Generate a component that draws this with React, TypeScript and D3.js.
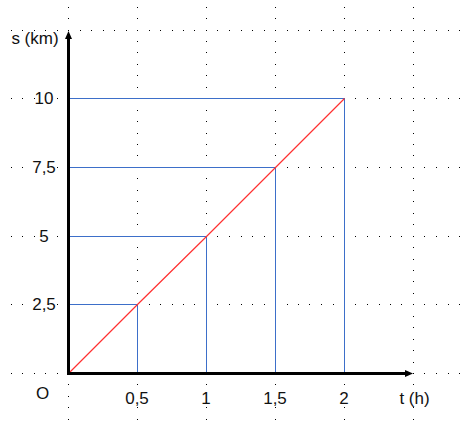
import React from "react";
import * as d3 from "d3";

const times = [0.5, 1, 1.5, 2];
const distances = [2.5, 5, 7.5, 10];
const xTickLabels = ["0,5", "1", "1,5", "2"];
const yTickLabels = ["2,5", "5", "7,5", "10"];
const xGridValues = [0, 0.5, 1, 1.5, 2, 2.5];
const yGridValues = [0, 2.5, 5, 7.5, 10, 12.5];
const xAxisTitle = "t (h)";
const yAxisTitle = "s (km)";
const originLabel = "O";

const W = 466;
const H = 427;

export default function App() {
  const x = d3.scaleLinear().domain([0, 2.5]).range([68, 413]);
  const y = d3.scaleLinear().domain([0, 12.5]).range([373, 29.5]);
  const px = (v: number) => Math.round(x(v)) + 0.5;
  const py = (v: number) => Math.round(y(v)) + 0.5;

  const dots: { cx: number; cy: number }[] = [];
  const ySub = 2.5 / 6;
  const yMin = y.invert(H), yMax = y.invert(0);
  xGridValues.forEach((gx) => {
    for (let k = Math.floor(yMin / ySub); k <= Math.ceil(yMax / ySub); k++) {
      const yy = Math.round(y(k * ySub));
      if (yy >= 0 && yy < H) dots.push({ cx: Math.round(x(gx)), cy: yy });
    }
  });
  const xSub = 0.5 / 6;
  const xMin = x.invert(0), xMax = x.invert(W);
  yGridValues.forEach((gy) => {
    for (let k = Math.floor(xMin / xSub); k <= Math.ceil(xMax / xSub); k++) {
      const xx = Math.round(x(k * xSub));
      if (xx >= 0 && xx < W) dots.push({ cx: xx, cy: Math.round(y(gy)) });
    }
  });

  const line = d3
    .line<[number, number]>()
    .x((d) => px(d[0]))
    .y((d) => py(d[1]));
  const redPts: [number, number][] = [[0, 0], ...times.map((t, i) => [t, distances[i]] as [number, number])];

  const font = "'Liberation Sans', Arial, sans-serif";
  const blue = "#3d6fc9";
  const x0 = px(0), y0 = py(0);
  const xTip = 413, yTip = 31;

  const labels: { t: string; x: number; y: number }[] = [
    ...xTickLabels.map((l, i) => ({ t: l, x: x(times[i]), y: 398 })),
    ...yTickLabels.map((l, i) => ({ t: l, x: 44, y: y(distances[i]) })),
    { t: xAxisTitle, x: 414.5, y: 398 },
    { t: yAxisTitle, x: 35, y: 38 },
    { t: originLabel, x: 42.5, y: 393.5 },
  ];

  return (
    <svg
      width={W}
      height={H}
      style={{ position: "absolute", left: 0, top: 0, background: "#fff" }}
      shapeRendering="crispEdges"
    >
      <rect x={0} y={0} width={W} height={H} fill="#fff" />
      <g>
        {dots.map((d, i) => (
          <rect key={i} x={d.cx} y={d.cy} width={1} height={1} fill="#000" />
        ))}
      </g>
      <g stroke={blue} strokeWidth={1} fill="none">
        {times.map((t, i) => (
          <g key={i}>
            <line x1={x0} x2={px(t)} y1={py(distances[i])} y2={py(distances[i])} />
            <line x1={px(t)} x2={px(t)} y1={y0} y2={py(distances[i])} />
          </g>
        ))}
      </g>
      <path d={line(redPts) || ""} stroke="#ff3030" strokeWidth={1.2} fill="none" shapeRendering="auto" />
      <g>
        <line x1={x0} x2={xTip - 6} y1={y0} y2={y0} stroke="#000" strokeWidth={3} />
        <path d={`M${xTip},${y0} L${xTip - 8},${y0 - 3.5} L${xTip - 8},${y0 + 3.5} Z`} fill="#000" shapeRendering="auto" />
        <line x1={x0} x2={x0} y1={y0 + 1.5} y2={yTip + 6} stroke="#000" strokeWidth={3} />
        <path d={`M${x0},${yTip} L${x0 - 3.5},${yTip + 8} L${x0 + 3.5},${yTip + 8} Z`} fill="#000" shapeRendering="auto" />
      </g>
      <g fontFamily={font} fontSize={17} fill="#111">
        {labels.map((l, i) => {
          const w = l.t.length * 8;
          return (
            <g key={i}>
              <rect x={l.x - w / 2 - 1} y={l.y - 7} width={w + 2} height={15} fill="#fff" />
              <text x={l.x} y={l.y} dy="0.35em" textAnchor="middle" shapeRendering="auto">
                {l.t}
              </text>
            </g>
          );
        })}
      </g>
    </svg>
  );
}
